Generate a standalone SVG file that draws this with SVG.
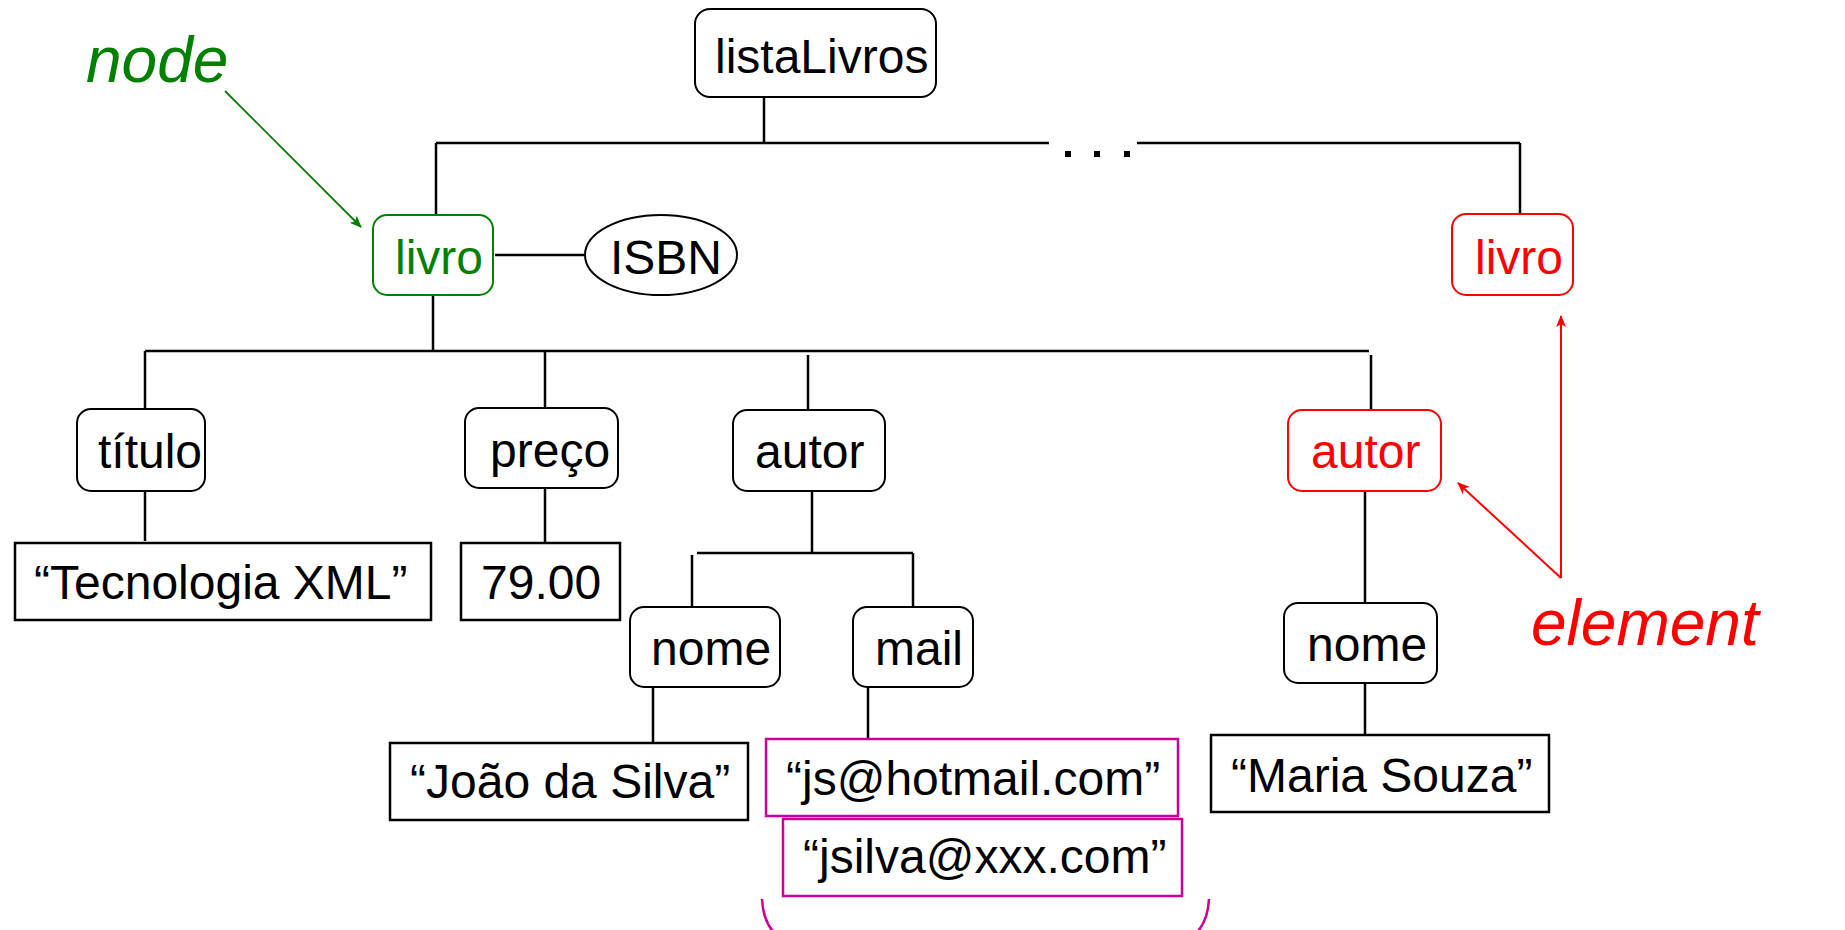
<svg xmlns="http://www.w3.org/2000/svg" width="1845" height="930" viewBox="0 0 1845 930">
<defs>
<style>
.t{font-family:"Liberation Sans",Arial,sans-serif;font-size:48px;fill:#000}
.lbl{font-family:"Liberation Sans",Arial,sans-serif;font-size:64px;font-style:italic}
.nb{fill:#fff;stroke:#000;stroke-width:2}
.vb{fill:#fff;stroke:#000;stroke-width:2.5}
.mb{fill:#fff;stroke:#CC0099;stroke-width:2.5}
.c line,.c path{stroke:#000;stroke-width:2.5;fill:none}
</style>
<marker id="ag" markerWidth="12" markerHeight="10" refX="11" refY="5" orient="auto" markerUnits="userSpaceOnUse" viewBox="0 0 12 10">
<path d="M0,0 L12,5 L0,10 L3,5 z" fill="#008000"/>
</marker>
<marker id="ar" markerWidth="12" markerHeight="10" refX="11" refY="5" orient="auto" markerUnits="userSpaceOnUse" viewBox="0 0 12 10">
<path d="M0,0 L12,5 L0,10 L3,5 z" fill="#FF0000"/>
</marker>
</defs>
<rect width="1845" height="930" fill="#fff"/>

<g id="connectors" class="c">
<line x1="764" y1="96" x2="764" y2="143"/>
<line x1="436" y1="143" x2="1049" y2="143"/>
<line x1="1137" y1="143" x2="1520" y2="143"/>
<line x1="436" y1="143" x2="436" y2="215"/>
<line x1="1520" y1="143" x2="1520" y2="214"/>
<line x1="495" y1="255" x2="585" y2="255" stroke-width="2"/>
<line x1="433" y1="295" x2="433" y2="351"/>
<line x1="145" y1="351" x2="1369" y2="351"/>
<line x1="145" y1="351" x2="145" y2="409"/>
<line x1="545" y1="351" x2="545" y2="408"/>
<line x1="808" y1="355" x2="808" y2="410"/>
<line x1="1371" y1="355" x2="1371" y2="410"/>
<line x1="145" y1="484" x2="145" y2="541" stroke-width="2"/>
<line x1="545" y1="488" x2="545" y2="543" stroke-width="2"/>
<line x1="812" y1="491" x2="812" y2="553"/>
<line x1="697" y1="553" x2="913" y2="553" stroke-width="3"/>
<line x1="692" y1="555" x2="692" y2="608"/>
<line x1="913" y1="553" x2="913" y2="608"/>
<line x1="1365" y1="491" x2="1365" y2="603"/>
<line x1="653" y1="687" x2="653" y2="743"/>
<line x1="868" y1="687" x2="868" y2="742"/>
<line x1="1365" y1="683" x2="1365" y2="738"/>
</g>

<g id="dots" fill="#000">
<rect x="1065" y="151" width="6" height="6"/>
<rect x="1094" y="151" width="6" height="6"/>
<rect x="1124" y="151" width="6" height="6"/>
</g>

<g id="listaLivros">
<rect class="nb" x="695" y="9" width="241" height="88" rx="15"/>
<text class="t" x="715" y="73">listaLivros</text>
</g>

<g id="livro1">
<rect x="373" y="215" width="120" height="80" rx="14" fill="#fff" stroke="#008000" stroke-width="2"/>
<text class="t" x="395" y="274" style="fill:#008000">livro</text>
</g>

<g id="isbn">
<ellipse cx="661" cy="255" rx="76" ry="40" fill="#fff" stroke="#000" stroke-width="2"/>
<text class="t" x="610" y="274">ISBN</text>
</g>

<g id="livro2">
<rect x="1452" y="214" width="121" height="81" rx="14" fill="#fff" stroke="#FF0000" stroke-width="2"/>
<text class="t" x="1475" y="274" style="fill:#FF0000">livro</text>
</g>

<g id="titulo">
<rect class="nb" x="77" y="409" width="128" height="82" rx="14"/>
<text class="t" x="98" y="468">título</text>
</g>

<g id="preco">
<rect class="nb" x="465" y="408" width="153" height="80" rx="14"/>
<text class="t" x="490" y="467">preço</text>
</g>

<g id="autor1">
<rect class="nb" x="733" y="410" width="152" height="81" rx="14"/>
<text class="t" x="755" y="468">autor</text>
</g>

<g id="autor2">
<rect x="1288" y="410" width="153" height="81" rx="14" fill="#fff" stroke="#FF0000" stroke-width="2"/>
<text class="t" x="1311" y="468" style="fill:#FF0000">autor</text>
</g>

<g id="tecnologia">
<rect class="vb" x="15" y="543" width="416" height="77"/>
<text class="t" x="34" y="599">“Tecnologia XML”</text>
</g>

<g id="preco-val">
<rect class="vb" x="461" y="543" width="159" height="77"/>
<text class="t" x="481" y="599">79.00</text>
</g>

<g id="nome1">
<rect class="nb" x="630" y="607" width="150" height="80" rx="14"/>
<text class="t" x="651" y="665">nome</text>
</g>

<g id="mail">
<rect class="nb" x="853" y="607" width="120" height="80" rx="14"/>
<text class="t" x="875" y="665">mail</text>
</g>

<g id="nome2">
<rect class="nb" x="1284" y="603" width="153" height="80" rx="14"/>
<text class="t" x="1307" y="661">nome</text>
</g>

<g id="joao">
<rect class="vb" x="390" y="743" width="358" height="77"/>
<text class="t" x="410" y="798">“João da Silva”</text>
</g>

<g id="mail1">
<rect class="mb" x="766" y="739" width="412" height="77"/>
<text class="t" x="786" y="795">“js@hotmail.com”</text>
</g>

<g id="mail2">
<rect class="mb" x="783" y="819" width="399" height="77"/>
<text class="t" x="803" y="873">“jsilva@xxx.com”</text>
</g>

<g id="maria">
<rect class="vb" x="1211" y="735" width="338" height="77"/>
<text class="t" x="1231" y="792">“Maria Souza”</text>
</g>

<g id="brace">
<path d="M762,899 Q764,944 812,950 L1158,950 Q1207,944 1209,899" fill="none" stroke="#CC0099" stroke-width="2.5"/>
</g>

<g id="node-label">
<text class="lbl" x="86" y="82" fill="#008000">node</text>
<line x1="225" y1="91" x2="361" y2="227" stroke="#008000" stroke-width="1.8" marker-end="url(#ag)"/>
</g>

<g id="element-label">
<text class="lbl" x="1531" y="645" fill="#FF0000">element</text>
<line x1="1561" y1="578" x2="1458" y2="483" stroke="#FF0000" stroke-width="2" marker-end="url(#ar)"/>
<line x1="1561" y1="578" x2="1561" y2="316" stroke="#FF0000" stroke-width="2" marker-end="url(#ar)"/>
</g>
</svg>
